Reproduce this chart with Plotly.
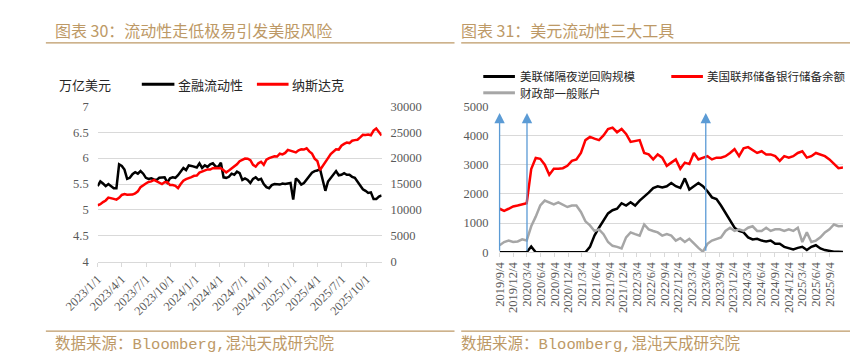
import pandas as pd
import plotly.graph_objects as go

# ---------------- Left chart data (10-day steps from 2023-01-01) ----------------
left_start = "2023-01-01"
liquidity = [5.46, 5.55, 5.51, 5.46, 5.50, 5.46, 5.42, 5.42, 5.88, 5.85,
             5.78, 5.60, 5.62, 5.69, 5.73, 5.70, 5.75, 5.70, 5.62, 5.60,
             5.61, 5.59, 5.58, 5.62, 5.62, 5.63, 5.53, 5.61, 5.63, 5.62,
             5.67, 5.75, 5.81, 5.77, 5.86, 5.85, 5.84, 5.82, 5.90, 5.81,
             5.86, 5.83, 5.88, 5.90, 5.84, 5.83, 5.91, 5.63, 5.62, 5.64,
             5.70, 5.68, 5.74, 5.71, 5.58, 5.61, 5.58, 5.52, 5.60, 5.63,
             5.58, 5.60, 5.50, 5.44, 5.42, 5.48, 5.50, 5.50, 5.49, 5.51,
             5.50, 5.51, 5.52, 5.20, 5.61, 5.56, 5.49, 5.52, 5.59, 5.67,
             5.72, 5.75, 5.76, 5.79, 5.60, 5.37, 5.55, 5.62, 5.67, 5.75,
             5.67, 5.68, 5.71, 5.68, 5.68, 5.64, 5.62, 5.54, 5.47, 5.40,
             5.37, 5.33, 5.34, 5.21, 5.21, 5.26, 5.28]
nasdaq = [10920, 11110, 11530, 11840, 12400, 12200, 12150, 12000, 12350, 12900,
          13070, 12940, 13000, 12970, 13190, 13600, 14400, 14800, 15100, 15400,
          15510, 15800, 15550, 15200, 15000, 15350, 15390, 14800, 14800, 14650,
          14200, 15000, 15650, 15950, 16100, 16350, 16600, 16650, 17200, 17450,
          17650, 17820, 17800, 18050, 18100, 18000, 18050, 17650, 17250, 17600,
          17950, 18400, 18800, 19400, 19680, 19920, 19900, 19600, 18700, 18350,
          19000, 19300, 18700, 19700, 20000, 20200, 20350, 20300, 20850, 20720,
          21000, 21600, 21450, 21300, 21100, 21500, 21700, 21650, 21900, 21300,
          20900, 19900, 19450, 17700, 18400, 19100, 20000, 20800, 21200, 21700,
          21650, 22400, 22750, 23000, 22900, 23350, 23470, 23550, 24000, 24500,
          24450, 24550, 24400, 25300, 25700, 25000, 24350]
left_ticklabels = ["2023/1/1", "2023/4/1", "2023/7/1", "2023/10/1",
                   "2024/1/1", "2024/4/1", "2024/7/1", "2024/10/1",
                   "2025/1/1", "2025/4/1", "2025/7/1", "2025/10/1"]

# ---------------- Right chart data (30-day steps from 2019-09-04) ----------------
right_start = "2019-09-04"
rrp = [0, 0, 0, 0, 0, 0, 0, 200, 0, 0,
       0, 0, 0, 0, 0, 0, 0, 0, 0, 0,
       185, 570, 840, 1110, 1330, 1440, 1490, 1680, 1600, 1710,
       1600, 1770, 1900, 2040, 2200, 2260, 2220, 2260, 2370, 2260,
       2200, 2530, 2150, 2260, 2370, 2260, 2090, 1880, 1820, 1600,
       1330, 1060, 840, 730, 680, 510, 440, 460, 400, 370,
       400, 290, 290, 185, 150, 100, 150, 185, 75, 185,
       240, 130, 75, 40, 20, 20, 10]
reserves = [1490, 1420, 1490, 1570, 1600, 1640, 1680, 2850, 3230, 3200,
            3000, 2650, 2860, 2860, 2880, 2960, 3130, 3180, 3400, 3840,
            3950, 3890, 3840, 4000, 4220, 4270, 4110, 4220, 4050, 3780,
            3820, 3840, 3400, 3350, 3180, 3350, 3240, 2960, 3070, 3180,
            2860, 3070, 3020, 3400, 3180, 3240, 3290, 3180, 3240, 3240,
            3290, 3400, 3530, 3290, 3560, 3600, 3510, 3400, 3460, 3350,
            3350, 3290, 3130, 3290, 3240, 3290, 3400, 3460, 3240, 3290,
            3400, 3350, 3290, 3180, 3020, 2880, 2900]
tga = [240, 350, 400, 350, 370, 440, 400, 890, 1220, 1600,
       1770, 1710, 1640, 1710, 1640, 1550, 1600, 1600, 1380, 1060,
       920, 730, 785, 620, 350, 220, 185, 130, 510, 680,
       620, 570, 950, 785, 730, 680, 570, 620, 570, 400,
       480, 350, 460, 290, 150, 20, 290, 400, 460, 510,
       730, 840, 730, 785, 730, 840, 890, 730, 730, 840,
       730, 785, 785, 730, 785, 730, 840, 350, 680, 350,
       400, 510, 680, 785, 950, 890, 900]
right_ticklabels = ["2019/9/4", "2019/12/4", "2020/3/4", "2020/6/4", "2020/9/4",
                    "2020/12/4", "2021/3/4", "2021/6/4", "2021/9/4", "2021/12/4",
                    "2022/3/4", "2022/6/4", "2022/9/4", "2022/12/4", "2023/3/4",
                    "2023/6/4", "2023/9/4", "2023/12/4", "2024/3/4", "2024/6/4",
                    "2024/9/4", "2024/12/4", "2025/3/4", "2025/6/4", "2025/9/4"]
arrow_dates = ["2019-09-04", "2020-03-04", "2023-06-04"]
arrow_top = 4770

left_dates = pd.date_range(left_start, periods=len(liquidity), freq="10D")
right_dates = pd.date_range(right_start, periods=len(reserves), freq="30D")
left_tickvals = pd.to_datetime(left_ticklabels, format="%Y/%m/%d")
right_tickvals = pd.to_datetime(right_ticklabels, format="%Y/%m/%d")

W, H = 858, 355
GOLD = "#bd9966"
GRID = "#d9d9d9"
TICK = "#595959"
SERIF = "Liberation Serif"
CJK = "Noto Sans CJK SC"

def px(x):
    return x / W

def py(y):
    return 1 - y / H

fig = go.Figure()
fig.add_trace(go.Scatter(x=left_dates, y=liquidity, mode="lines", name="金融流动性",
                         line=dict(color="black", width=2.5), xaxis="x", yaxis="y"))
fig.add_trace(go.Scatter(x=left_dates, y=nasdaq, mode="lines", name="纳斯达克",
                         line=dict(color="#ff0000", width=2.5), xaxis="x", yaxis="y2"))
fig.add_trace(go.Scatter(x=right_dates, y=rrp, mode="lines", name="美联储隔夜逆回购规模",
                         line=dict(color="black", width=2.5), xaxis="x2", yaxis="y3"))
fig.add_trace(go.Scatter(x=right_dates, y=reserves, mode="lines", name="美国联邦储备银行储备余额",
                         line=dict(color="#ff0000", width=2.5), xaxis="x2", yaxis="y3"))
fig.add_trace(go.Scatter(x=right_dates, y=tga, mode="lines", name="财政部一般账户",
                         line=dict(color="#a6a6a6", width=2.5), xaxis="x2", yaxis="y3"))

tickfont = dict(family=SERIF, size=12.5, color=TICK)

fig.update_layout(
    width=W, height=H, autosize=False,
    margin=dict(l=0, r=0, t=0, b=0),
    paper_bgcolor="white", plot_bgcolor="white",
    showlegend=False,
    xaxis=dict(domain=[px(57), px(353)], anchor="y", type="date",
               range=[left_dates[0], left_dates[-1]],
               tickmode="array", tickvals=left_tickvals, ticktext=left_ticklabels,
               tickangle=-45, tickfont=tickfont, showgrid=False,
               showline=True, linecolor=GRID, linewidth=1,
               ticks="outside", ticklen=4, tickcolor=GRID, zeroline=False),
    yaxis=dict(domain=[py(257), py(95)], anchor="x", range=[4, 7], dtick=0.5,
               tickfont=tickfont, gridcolor=GRID, gridwidth=1, zeroline=False,
               showline=False, ticklabelstandoff=8),
    yaxis2=dict(overlaying="y", side="right", anchor="x", range=[0, 30000], dtick=5000,
                tickformat="d",
                tickfont=tickfont, showgrid=False, zeroline=False, showline=False,
                ticklabelstandoff=8),
    xaxis2=dict(domain=[px(476), px(834)], anchor="y3", type="date",
                range=[right_dates[0], right_dates[-1]],
                tickmode="array", tickvals=right_tickvals, ticktext=right_ticklabels,
                tickangle=-90, tickfont=tickfont, showgrid=False,
                showline=True, linecolor=GRID, linewidth=1,
                ticks="outside", ticklen=4, tickcolor=GRID, zeroline=False),
    yaxis3=dict(domain=[py(247), py(95)], anchor="x2", range=[0, 5000], dtick=1000,
                tickformat="d",
                tickfont=tickfont, gridcolor=GRID, gridwidth=1, zeroline=False,
                showline=False, ticklabelstandoff=10),
)

shapes = []
annotations = []

def hline(x0, x1, y, color, width):
    shapes.append(dict(type="line", xref="paper", yref="paper",
                       x0=px(x0), x1=px(x1), y0=py(y), y1=py(y),
                       line=dict(color=color, width=width)))

def text(x, y, s, size, color, family=CJK):
    annotations.append(dict(xref="paper", yref="paper", x=px(x), y=py(y), text=s,
                            showarrow=False, xanchor="left", yanchor="middle",
                            font=dict(family=family, size=size, color=color)))

# titles and frame lines
text(10, 16, "图表 30：流动性走低极易引发美股风险", 16, GOLD)
text(434, 16, "图表 31：美元流动性三大工具", 16, GOLD)
hline(3, 429, 29, GOLD, 1.3)
hline(436, 855, 29, GOLD, 1.3)
hline(3, 429, 329, GOLD, 1.3)
hline(436, 855, 329, GOLD, 1.3)
text(10, 342, "数据来源：Bloomberg,混沌天成研究院", 15.5, GOLD,
     family="Liberation Mono, " + CJK)
text(434, 342, "数据来源：Bloomberg,混沌天成研究院", 15.5, GOLD,
     family="Liberation Mono, " + CJK)

# left legend
text(15, 72, "万亿美元", 13, "#262626")
hline(103, 137, 72, "black", 3)
text(139, 72, "金融流动性", 13, "#262626")
hline(223, 256, 72, "#ff0000", 3)
text(258, 72, "纳斯达克", 13, "#262626")

# right legend
hline(459, 492, 64, "black", 3)
text(495, 64, "美联储隔夜逆回购规模", 11.5, "#262626")
hline(655, 688, 64, "#ff0000", 3)
text(690, 64, "美国联邦储备银行储备余额", 11.5, "#262626")
hline(459, 492, 81, "#a6a6a6", 3)
text(495, 81, "财政部一般账户", 11.5, "#262626")

# blue arrows
for d in arrow_dates:
    annotations.append(dict(xref="x2", yref="y3", x=d, y=arrow_top,
                            axref="x2", ayref="y3", ax=d, ay=0, text="",
                            showarrow=True, arrowhead=2, arrowsize=1.6,
                            arrowwidth=1.3, arrowcolor="#5b9bd5"))

fig.update_layout(shapes=shapes, annotations=annotations)
fig.write_html("out.html")
